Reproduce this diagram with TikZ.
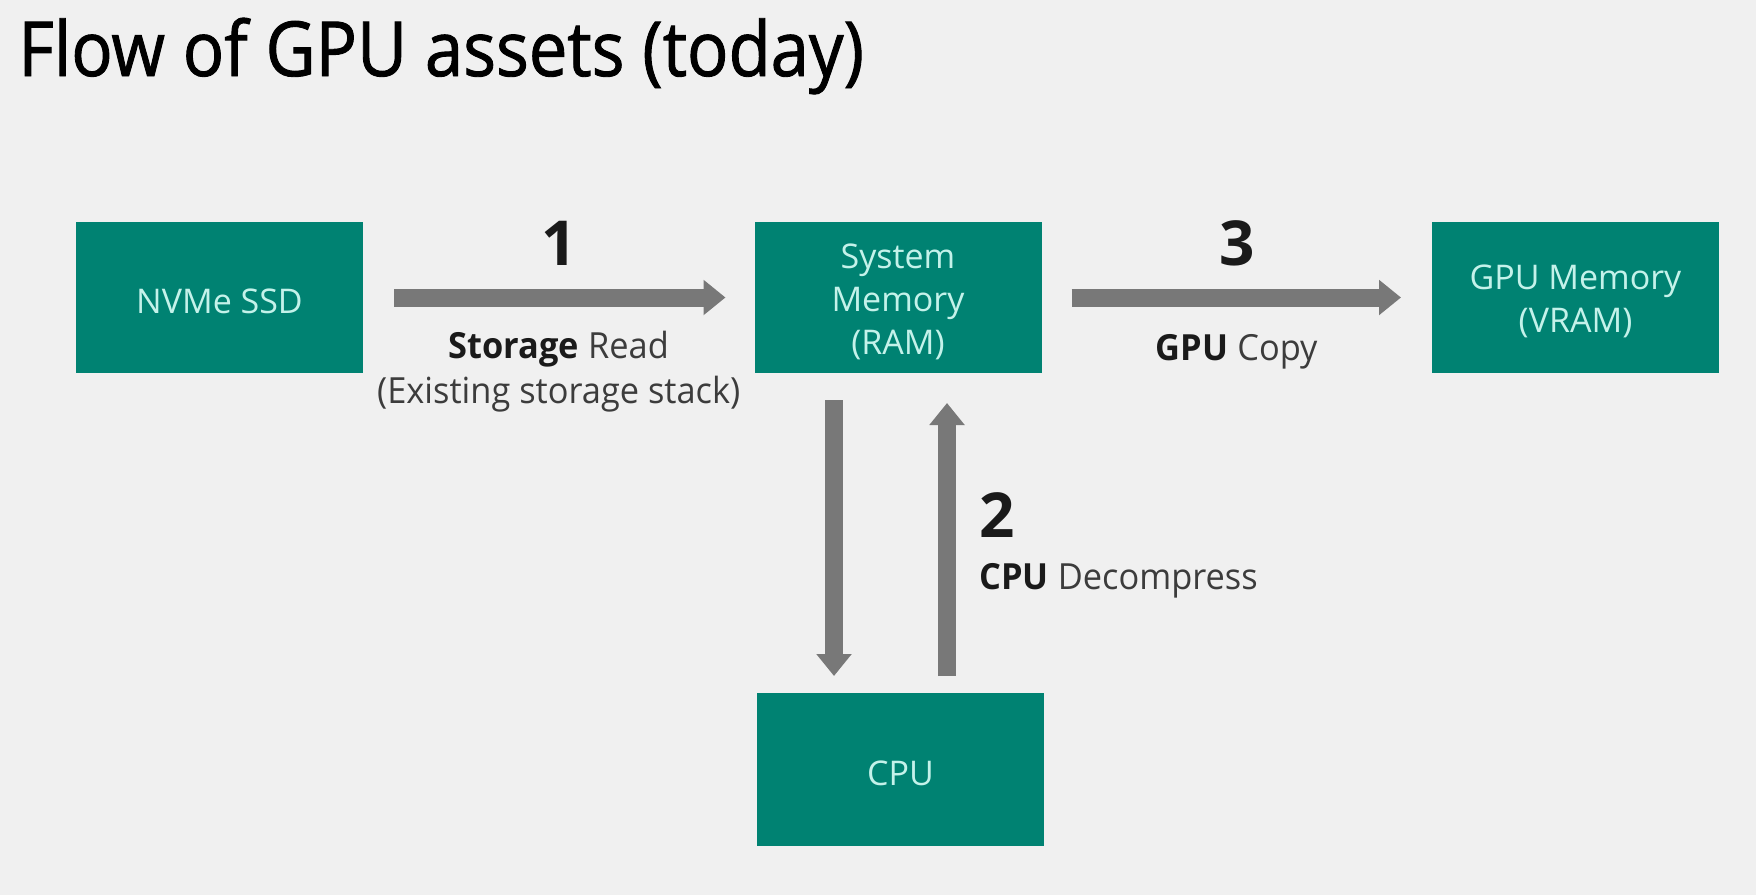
\documentclass[tikz,border=0pt]{standalone}
\usepackage{fontspec}
\setmainfont{Open Sans}
\usepackage{xcolor}
\usetikzlibrary{arrows.meta, calc, positioning}

\definecolor{boxteal}{HTML}{008272}
\definecolor{boxtext}{HTML}{C4F2EA}
\definecolor{flowgray}{HTML}{787878}
\definecolor{pagebg}{HTML}{F0F0F0}
\definecolor{labeltext}{HTML}{1A1A1A}

\begin{document}
\begin{tikzpicture}[x=0.5pt, y=-0.5pt,
    memblock/.style={fill=boxteal, text=boxtext, minimum width=143.5pt, minimum height=75.5pt,
                     inner sep=0pt, outer sep=0pt, align=center,
                     font=\fontsize{17}{21.5}\selectfont},
    flow/.style={draw=flowgray, line width=9pt, -{Triangle[width=17pt, length=11pt]}},
    stepnum/.style={text=labeltext, font=\fontsize{31}{31}\selectfont\bfseries},
    steptext/.style={text=labeltext!85, align=center,
                     font=\fontsize{18}{22.5}\selectfont\addfontfeatures{FakeStretch=0.955}}]

    % page
    \fill[pagebg] (0,0) rectangle (1756,895);
    \useasboundingbox (0,0) rectangle (1756,895);

    \node (title) [anchor=base west, text=black, inner sep=0pt,
        font=\fontsize{38}{38}\selectfont\addfontfeatures{FakeStretch=0.905, FakeBold=1.2}] at (18,76) {Flow of GPU assets (today)};

    % memories (text height nudges the text a little down)
    \node (ssd) [memblock, text height=16.5pt] at (219.5,297.5) {NVMe SSD};
    \node (ram) [memblock, text height=59.5pt] at (898,297.5) {System\\Memory\\(RAM)};
    \node (vram) [memblock, text height=38pt] at (1575.5,297.5) {GPU Memory\\(VRAM)};
    \node (cpu) [memblock, text height=16.5pt, minimum height=76.5pt] at (900.5,769.5) {CPU};

    % step 1
    \draw[flow, shorten <=15.5pt, shorten >=14.5pt] (ssd) -- (ram)
        node (one) [stepnum, midway, above=8pt] {1}
        node (read) [steptext, midway, below=9pt] {\textbf{\color{labeltext}Storage} Read\\(Existing storage stack)};

    % step 2
    \coordinate (downtop) at ($(ram.south)+(-64,0)$);
    \coordinate (uptop) at ($(ram.south)+(49,0)$);
    \draw[flow, shorten <=13.5pt, shorten >=8.5pt] (downtop) -- (downtop |- cpu.north);
    \draw[flow, shorten <=8.5pt, shorten >=15pt] (uptop |- cpu.north) -- (uptop);
    \node (two) [stepnum, anchor=west, inner sep=0pt] at (979,515) {2};
    \node (decomp) [steptext, anchor=west, inner sep=0pt] at (979,581) {\textbf{\color{labeltext}CPU} Decompress};

    % step 3
    \draw[flow, shorten <=15pt, shorten >=15.5pt] (ram) -- (vram)
        node (three) [stepnum, midway, above=8pt] {3}
        node (copy) [steptext, midway, below=10.5pt] {\textbf{\color{labeltext}GPU} Copy};
\end{tikzpicture}
\end{document}
